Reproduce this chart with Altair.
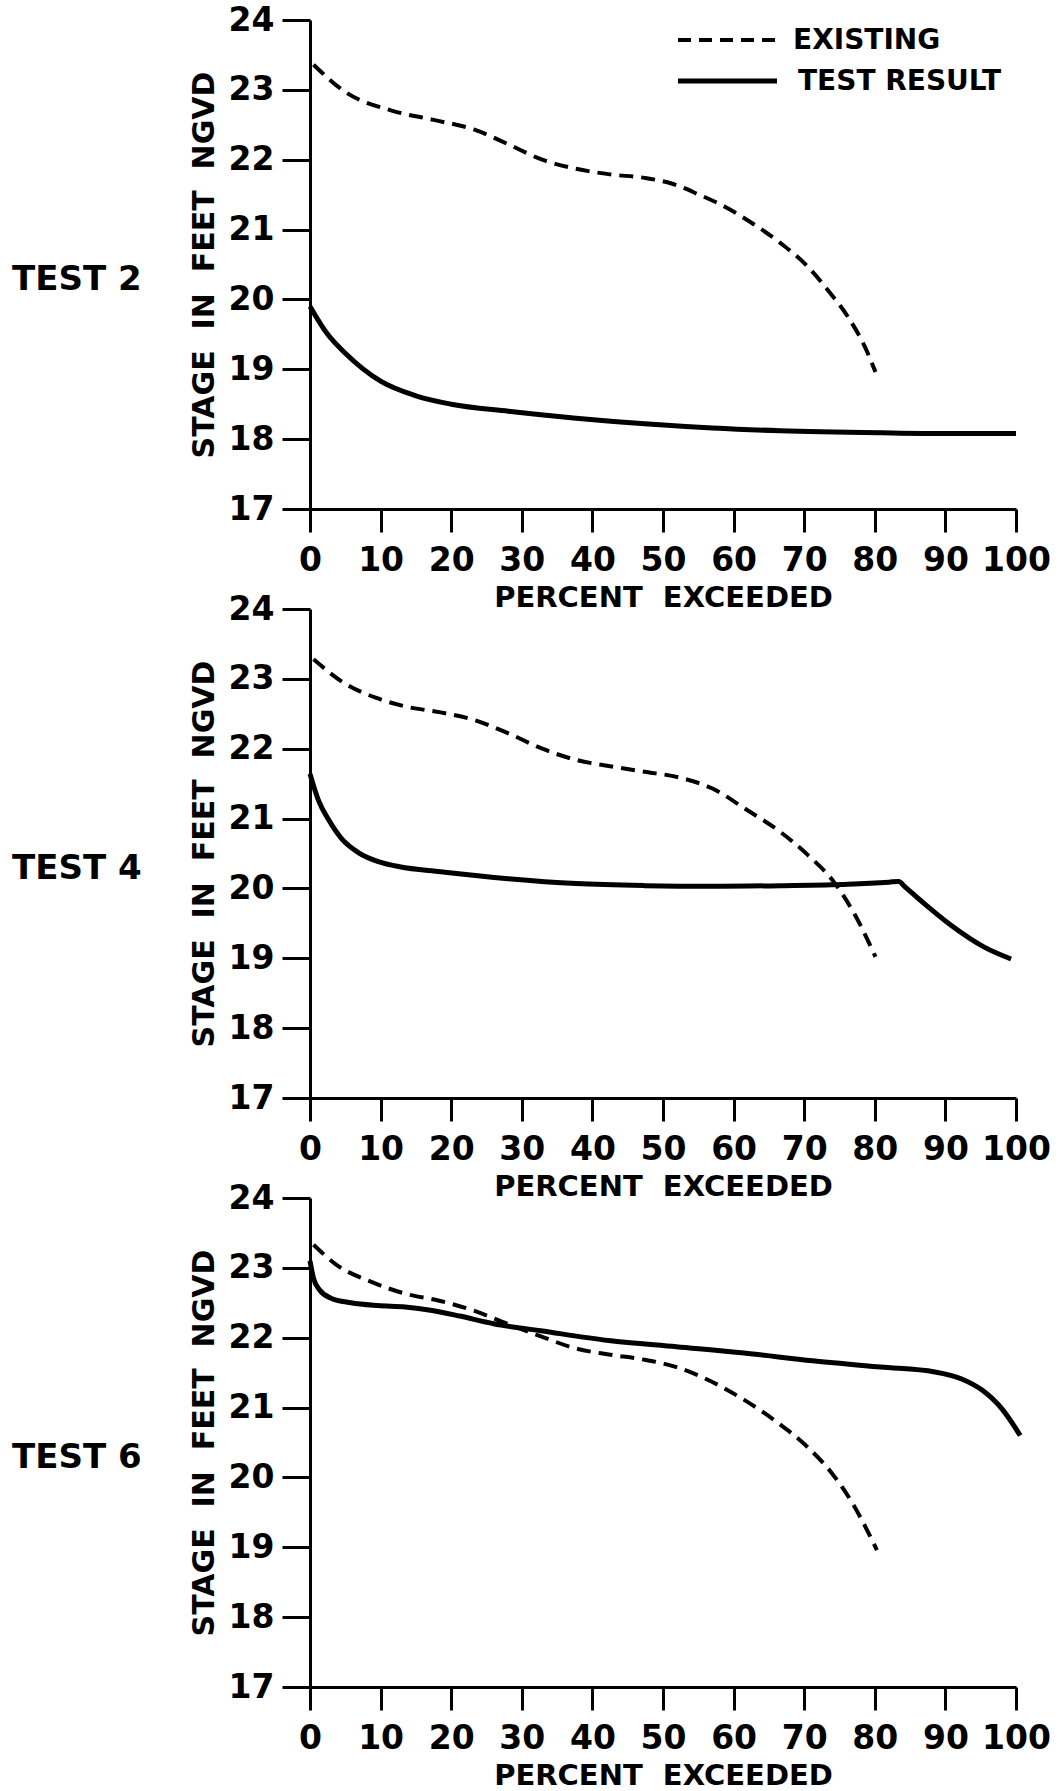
import altair as alt
import pandas as pd

# Stage-duration curves (percent of time exceeded vs. stage, ft NGVD)
t2_exist_pct = [0.5, 5, 11.7, 17.5, 23.3, 28.1, 32.9, 37.7, 42.5, 47.4, 51.2, 55.1, 58.9, 62.8, 66.6, 70.5, 73.3, 76.2, 78.6, 80.1]
t2_exist_stage = [23.36, 22.97, 22.70, 22.57, 22.43, 22.22, 22.00, 21.87, 21.79, 21.74, 21.66, 21.50, 21.32, 21.08, 20.81, 20.47, 20.14, 19.75, 19.32, 18.96]
t2_test_pct = [0, 2.5, 5, 10, 15, 20, 28.1, 37.7, 47.4, 57, 66.6, 81, 90, 100]
t2_test_stage = [19.90, 19.50, 19.23, 18.83, 18.62, 18.50, 18.40, 18.30, 18.22, 18.16, 18.12, 18.09, 18.08, 18.08]

t4_exist_pct = [0.5, 5, 9.3, 13.7, 18.5, 23.3, 28.1, 32.9, 37.7, 42.5, 47.4, 52.2, 57, 61.8, 66.6, 70.5, 74.3, 77.2, 80.1]
t4_exist_stage = [23.28, 22.93, 22.73, 22.60, 22.52, 22.41, 22.22, 22.00, 21.84, 21.75, 21.67, 21.59, 21.43, 21.13, 20.81, 20.48, 20.08, 19.62, 19.02]
t4_test_pct = [0, 1.2, 2.6, 4.5, 6.9, 9.8, 12.7, 18.5, 28.1, 37.7, 47.4, 57, 66.6, 76.2, 82.0, 83.4, 84.2, 86.8, 90.7, 95.5, 99.3]
t4_test_stage = [21.64, 21.26, 20.99, 20.71, 20.51, 20.38, 20.31, 20.24, 20.14, 20.07, 20.04, 20.03, 20.04, 20.06, 20.09, 20.10, 20.03, 19.80, 19.48, 19.16, 18.99]

t6_exist_pct = [0.5, 3.8, 8.7, 13.5, 18.3, 23.1, 27.9, 32.7, 37.5, 42.3, 47.1, 51.9, 56.7, 61.5, 66.3, 70.2, 74.0, 76.9, 80.3]
t6_exist_stage = [23.33, 23.04, 22.80, 22.63, 22.53, 22.39, 22.20, 22.02, 21.85, 21.76, 21.69, 21.58, 21.38, 21.11, 20.78, 20.46, 20.05, 19.62, 18.96]
t6_test_pct = [0, 0.5, 1.4, 2.9, 5.8, 9.6, 13.5, 17.3, 21.2, 26, 32.7, 42.3, 51.9, 61.5, 71.2, 80.8, 88.5, 92.3, 95.2, 98.1, 100.6]
t6_test_stage = [23.10, 22.85, 22.68, 22.57, 22.50, 22.46, 22.44, 22.39, 22.31, 22.20, 22.10, 21.96, 21.87, 21.78, 21.67, 21.58, 21.51, 21.41, 21.25, 20.97, 20.60]

panel_names = ["TEST 2", "TEST 4", "TEST 6"]
series_names = ["EXISTING", "TEST RESULT"]
x_ticks = list(range(0, 101, 10))
y_ticks = list(range(17, 25))

FONT = "DejaVu Sans"

curves = {
    "TEST 2": ((t2_exist_pct, t2_exist_stage), (t2_test_pct, t2_test_stage)),
    "TEST 4": ((t4_exist_pct, t4_exist_stage), (t4_test_pct, t4_test_stage)),
    "TEST 6": ((t6_exist_pct, t6_exist_stage), (t6_test_pct, t6_test_stage)),
}

W, H = 706, 489

x_enc = alt.X(
    "pct:Q",
    scale=alt.Scale(domain=[0, 100], nice=False, zero=False),
    axis=alt.Axis(
        values=x_ticks, tickSize=23, labelPadding=12,
        title="PERCENT\u00a0 EXCEEDED", titleFontSize=29, titlePadding=6,
        labelFlush=False, labelOverlap=False,
    ),
)
y_enc = alt.Y(
    "stage:Q",
    scale=alt.Scale(domain=[17, 24], nice=False, zero=False),
    axis=alt.Axis(
        values=y_ticks, tickSize=28, labelPadding=8,
        title="STAGE\u00a0 IN\u00a0 FEET\u00a0 NGVD", titleFontSize=30, titlePadding=9,
        labelFlush=False, labelOverlap=False,
    ),
)


def panel(name, with_legend=False):
    (ex_x, ex_y), (ts_x, ts_y) = curves[name]
    ex_df = pd.DataFrame({"pct": ex_x, "stage": ex_y, "series": series_names[0]})
    ts_df = pd.DataFrame({"pct": ts_x, "stage": ts_y, "series": series_names[1]})

    existing = alt.Chart(ex_df).mark_line(
        color="black", strokeWidth=4, strokeDash=[14, 8], interpolate="monotone"
    ).encode(x=x_enc, y=y_enc)
    test = alt.Chart(ts_df).mark_line(
        color="black", strokeWidth=5, interpolate="monotone"
    ).encode(x=x_enc, y=y_enc)

    label = alt.Chart(pd.DataFrame({"label": [name]})).mark_text(
        align="left", baseline="middle", font=FONT, fontWeight="bold",
        fontSize=34, color="black",
    ).encode(text="label:N", x=alt.value(-298), y=alt.value(260))

    layers = [existing, test, label]

    if with_legend:
        leg = pd.DataFrame({"series": series_names})
        dash_key = alt.Chart(leg.iloc[[0]]).mark_rule(
            color="black", strokeWidth=4, strokeDash=[13, 8]
        ).encode(x=alt.value(368), x2=alt.value(467), y=alt.value(20))
        solid_key = alt.Chart(leg.iloc[[1]]).mark_rule(
            color="black", strokeWidth=5
        ).encode(x=alt.value(368), x2=alt.value(467), y=alt.value(61))
        dash_txt = alt.Chart(leg.iloc[[0]]).mark_text(
            align="left", baseline="middle", font=FONT, fontWeight="bold",
            fontSize=28, color="black",
        ).encode(text="series:N", x=alt.value(483), y=alt.value(21))
        solid_txt = alt.Chart(leg.iloc[[1]]).mark_text(
            align="left", baseline="middle", font=FONT, fontWeight="bold",
            fontSize=28, color="black",
        ).encode(text="series:N", x=alt.value(488), y=alt.value(62))
        layers += [dash_key, solid_key, dash_txt, solid_txt]

    return alt.layer(*layers).properties(width=W, height=H)


chart = alt.vconcat(
    panel("TEST 2", with_legend=True),
    panel("TEST 4"),
    panel("TEST 6"),
    spacing=100,
    bounds="flush",
).properties(
    padding={"left": 12, "top": 4, "right": 5, "bottom": 5},
    background="white",
).configure_view(
    stroke=None
).configure_axis(
    grid=False,
    domainColor="black", domainWidth=3,
    tickColor="black", tickWidth=3,
    labelFont=FONT, labelFontWeight="bold", labelFontSize=33, labelColor="black",
    titleFont=FONT, titleFontWeight="bold", titleColor="black",
)

chart.save("out.html", embed_options={"renderer": "svg", "actions": False})
